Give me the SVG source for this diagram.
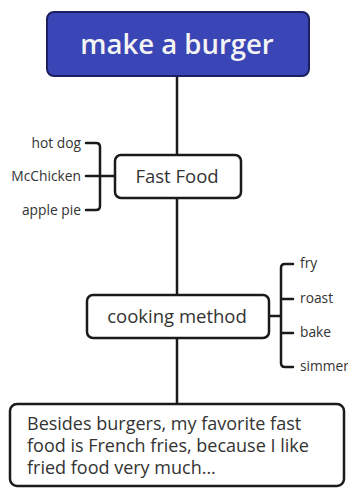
<svg xmlns="http://www.w3.org/2000/svg" width="348" height="488" viewBox="0 0 348 488">
<style>
.ln{stroke:#1a1a1a;stroke-width:2.5;fill:none;stroke-linecap:round}
.box{fill:#fff;stroke:#1a1a1a;stroke-width:2.5}
.t{font-family:"Open Sans","Noto Sans",sans-serif;fill:#333}
.s{font-size:13.8px}
.m{font-size:18.5px}
</style>
<rect width="348" height="488" fill="#fff"/>
<g id="connectors">
<line class="ln" x1="177" y1="76" x2="177" y2="404"/>
<path class="ln" d="M86,143 H96 Q100,143 100,147 V206 Q100,210 96,210 H86 M86,176 H115"/>
<path class="ln" d="M269,316 H281 M293,264 H285 Q281,264 281,268 V363 Q281,367 285,367 H293 M281,299 H293 M281,333 H293"/>
</g>
<g id="root">
<rect x="47" y="12" width="262" height="64" rx="7" fill="#3a46b5" stroke="#1c2060" stroke-width="2"/>
<text x="177" y="54" text-anchor="middle" font-family="Open Sans,Noto Sans,sans-serif" font-size="27.5" font-weight="600" fill="#f4f4f4">make a burger</text>
</g>
<g id="fastfood">
<rect class="box" x="115" y="155" width="126" height="43" rx="6"/>
<text class="t m" x="177" y="183" text-anchor="middle">Fast Food</text>
</g>
<g id="hotdog"><text class="t s" x="81" y="148" text-anchor="end">hot dog</text></g>
<g id="mcchicken"><text class="t s" x="81" y="181" text-anchor="end">McChicken</text></g>
<g id="applepie"><text class="t s" x="81" y="215" text-anchor="end">apple pie</text></g>
<g id="cooking">
<rect class="box" x="87" y="295" width="182" height="43" rx="6"/>
<text class="t m" x="177" y="323" text-anchor="middle">cooking method</text>
</g>
<g id="fry"><text class="t s" x="300" y="268">fry</text></g>
<g id="roast"><text class="t s" x="300" y="303">roast</text></g>
<g id="bake"><text class="t s" x="300" y="337">bake</text></g>
<g id="simmer"><text class="t s" x="300" y="371">simmer</text></g>
<g id="note">
<rect class="box" x="10" y="404" width="334" height="82" rx="7"/>
<text class="t" font-size="18" x="27" y="430">Besides burgers, my favorite fast</text>
<text class="t" font-size="18" x="27" y="452">food is French fries, because I like</text>
<text class="t" font-size="18" x="27" y="474">fried food very much...</text>
</g>
</svg>
